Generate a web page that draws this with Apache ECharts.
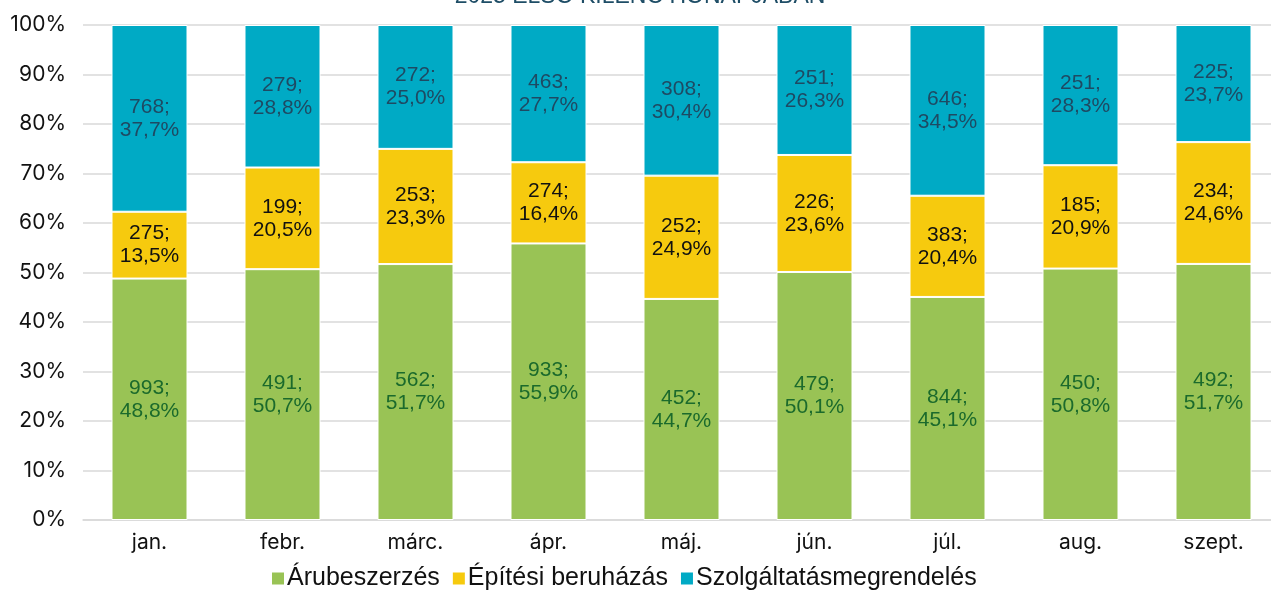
<!DOCTYPE html>
<html>
<head>
<meta charset="utf-8">
<script src="https://cdn.jsdelivr.net/npm/echarts@6/dist/echarts.min.js"></script>
<style>
  html, body { margin: 0; padding: 0; background: #fff; overflow: hidden; }
  #chart { width: 1280px; height: 590px; }
</style>
</head>
<body>
<div id="chart"></div>
<script>
const months = ['jan.', 'febr.', 'márc.', 'ápr.', 'máj.', 'jún.', 'júl.', 'aug.', 'szept.']
const arubeszerzes = [993, 491, 562, 933, 452, 479, 844, 450, 492]
const epitesi = [275, 199, 253, 274, 252, 226, 383, 185, 234]
const szolgaltatas = [768, 279, 272, 463, 308, 251, 646, 251, 225]
const yTicks = ['0%', '10%', '20%', '30%', '40%', '50%', '60%', '70%', '80%', '90%', '100%']

const totals = months.map((_, i) => arubeszerzes[i] + epitesi[i] + szolgaltatas[i])
const toPct = (arr) => arr.map((v, i) => v / totals[i] * 100)
const fmtPct = (v) => v.toFixed(1).replace('.', ',') + '%'

const chart = echarts.init(document.getElementById('chart'))

const makeSeries = (name, counts, color, labelColor) => ({
  name, type: 'bar', stack: 'total', barWidth: 76,
  data: toPct(counts),
  itemStyle: { color, borderColor: '#fff', borderWidth: 1 },
  label: {
    show: true, position: 'inside', color: labelColor,
    fontFamily: 'Liberation Sans', fontSize: 21, lineHeight: 23,
    formatter: ({ dataIndex, value }) => `${counts[dataIndex]};\n${fmtPct(value)}`,
  },
})

chart.setOption({
  animation: false,
  backgroundColor: '#fff',
  textStyle: { fontFamily: 'Inter' },
  title: {
    text: '2025 ELSŐ KILENC HÓNAPJÁBAN', left: 'center', top: -20,
    textStyle: { color: '#1e4d66', fontSize: 23, fontWeight: 'normal', fontFamily: 'Liberation Sans' },
  },
  legend: {
    bottom: -6, left: 265, itemWidth: 14, itemHeight: 14, itemGap: 11,
    icon: 'rect',
    textStyle: { color: '#111', fontSize: 25, fontFamily: 'Liberation Sans', padding: [0, 0, 0, -3] },
  },
  grid: { left: 83, right: 0, top: 25, bottom: 70 },
  xAxis: {
    type: 'category', data: months,
    axisLine: { lineStyle: { color: '#d9d9d9', width: 1.5 } },
    axisTick: { show: false },
    axisLabel: { color: '#111', fontSize: 21, margin: 12 },
  },
  yAxis: {
    type: 'value', min: 0, max: 100, interval: 10,
    axisLine: { show: false }, axisTick: { show: false },
    axisLabel: { color: '#111', fontSize: 21, margin: 17, formatter: (v) => yTicks[v / 10] },
    splitLine: { lineStyle: { color: '#d9d9d9', width: 1.5 } },
  },
  series: [
    makeSeries('Árubeszerzés', arubeszerzes, '#99c355', '#1b6a2c'),
    makeSeries('Építési beruházás', epitesi, '#f6ca0e', '#111'),
    makeSeries('Szolgáltatásmegrendelés', szolgaltatas, '#00aac5', '#1e4a63'),
  ],
})
</script>
</body>
</html>
